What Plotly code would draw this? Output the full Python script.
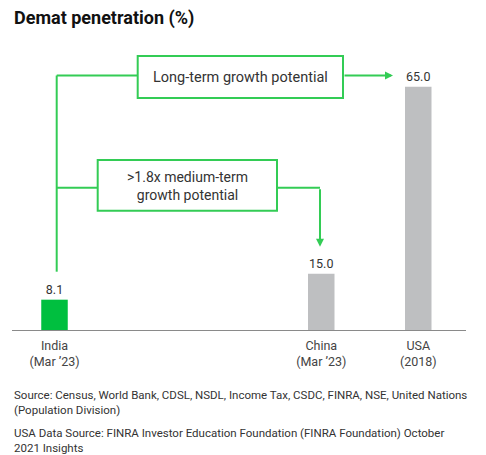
import plotly.graph_objects as go

# data
countries = ["India<br>(Mar ’23)", "China<br>(Mar ’23)", "USA<br>(2018)"]
penetration = [8.1, 15.0, 65.0]
bar_colors = ["#00bf3f", "#bebfc1", "#bebfc1"]

title_text = "<b>Demat penetration (%)</b>"
long_term_text = "Long-term growth potential"
medium_term_text = "&gt;1.8x medium-term<br>growth potential"
footnotes = [
    "Source: Census, World Bank, CDSL, NSDL, Income Tax, CSDC, FINRA, NSE, United Nations<br>(Population Division)",
    "USA Data Source: FINRA Investor Education Foundation (FINRA Foundation) October<br>2021 Insights",
]

# layout: coordinates below are in screen pixels of the 486x455 window;
# the page body adds an 8px margin, so the figure itself is shifted by that
PAGE_OFF = 8
W, H = 486 - PAGE_OFF, 455 - PAGE_OFF
L, R, T, B = 12, 466, 40, 330
x_pos = [0, 2.75, 3.75]
unit_px = 97.0
GREEN = "#33cc55"
FONT = "Roboto"


def fx(px):
    return (px - L) / (R - L)


def fy(py):
    return (B - py) / (B - T)


fig = go.Figure()
fig.add_trace(go.Bar(
    x=x_pos, y=penetration, width=26.5 / unit_px,
    marker=dict(color=bar_colors, line=dict(width=0)),
    texttemplate="%{y:.1f}", textposition="outside", cliponaxis=False,
    textfont=dict(size=12.5, color="#333333", family=FONT),
    hoverinfo="skip",
))

shapes = []


def seg(x0, y0, x1, y1):
    shapes.append(dict(type="line", xref="paper", yref="paper",
                       x0=fx(x0), y0=fy(y0), x1=fx(x1), y1=fy(y1),
                       line=dict(color=GREEN, width=2)))


def box(x0, y0, x1, y1):
    shapes.append(dict(type="rect", xref="paper", yref="paper",
                       x0=fx(x0), y0=fy(y0), x1=fx(x1), y1=fy(y1),
                       line=dict(color=GREEN, width=2), fillcolor="white"))


# connectors from India
seg(56.7, 75.5, 56.7, 271.7)
seg(56.7, 75.5, 137.7, 75.5)
box(137.7, 56, 343, 98)
seg(56.7, 187.7, 97.7, 187.7)
box(97.7, 160, 277, 210.7)
seg(277, 187.7, 320, 187.7)


def label(text, x, y, size, color="#333333", xanchor="center", yanchor="middle"):
    return dict(text=text, xref="paper", yref="paper", x=fx(x), y=fy(y),
                xanchor=xanchor, yanchor=yanchor, align="left" if xanchor == "left" else "center",
                showarrow=False, font=dict(size=size, color=color, family=FONT))


def arrow(x, y, ax, ay):
    return dict(text="", xref="paper", yref="paper", x=fx(x), y=fy(y),
                ax=ax, ay=ay, axref="pixel", ayref="pixel", showarrow=True,
                arrowhead=2, arrowsize=0.8, arrowwidth=2, arrowcolor=GREEN, standoff=0)


annotations = [
    label(title_text, 12, 18, 18, color="#111111", xanchor="left"),
    label(long_term_text, 240.3, 77, 14.5),
    label(medium_term_text, 187.3, 186, 14),
    arrow(393, 75.5, -50, 0),
    arrow(320, 246.7, 0, -59),
    label(footnotes[0], 12, 386, 11.5, xanchor="left", yanchor="top"),
    label(footnotes[1], 12, 424, 11.5, xanchor="left", yanchor="top"),
]

fig.update_layout(
    width=W, height=H,
    margin=dict(l=L - PAGE_OFF, r=W - (R - PAGE_OFF), t=T - PAGE_OFF, b=H - (B - PAGE_OFF)),
    paper_bgcolor="white", plot_bgcolor="white",
    showlegend=False,
    shapes=shapes,
    annotations=annotations,
    xaxis=dict(range=[(L - 54.5) / unit_px, (R - 54.5) / unit_px],
               tickvals=x_pos, ticktext=countries, showgrid=False,
               zeroline=False, showline=True, linecolor="#8a8a8a", linewidth=1,
               ticks="", ticklabelstandoff=4,
               tickfont=dict(size=12.5, color="#444444", family=FONT),
               fixedrange=True),
    yaxis=dict(range=[0, (B - T) / ((B - 86.7) / 65.0)], visible=False,
               fixedrange=True),
    font=dict(family=FONT),
)

fig.write_html("out.html")
